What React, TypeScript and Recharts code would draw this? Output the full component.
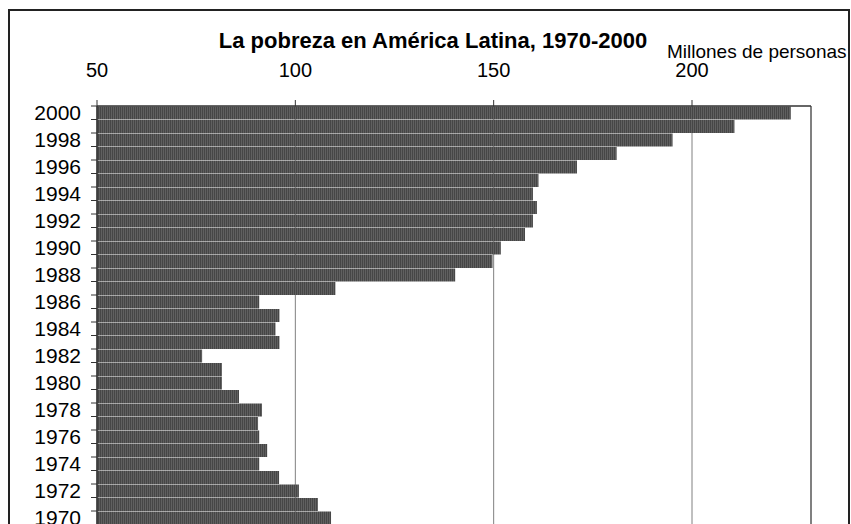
import React from "react";
import {
  BarChart, Bar, XAxis, YAxis, CartesianGrid, ReferenceLine,
} from "recharts";

// años (categorías) y millones de personas pobres
const years = [
  1970, 1971, 1972, 1973, 1974, 1975, 1976, 1977, 1978, 1979,
  1980, 1981, 1982, 1983, 1984, 1985, 1986, 1987, 1988, 1989,
  1990, 1991, 1992, 1993, 1994, 1995, 1996, 1997, 1998, 1999, 2000,
];
const pobres = [
  109.0, 105.7, 100.9, 95.9, 90.9, 92.9, 90.9, 90.6, 91.6, 85.8,
  81.5, 81.5, 76.5, 96.0, 95.0, 96.0, 90.9, 110.1, 140.3, 149.7,
  151.8, 157.9, 159.9, 160.9, 159.9, 161.3, 171.0, 181.0, 195.1, 210.7, 224.9,
];
const xTicks = [50, 100, 150, 200];
const xDomain = [50, 230];

const title = "La pobreza en América Latina, 1970-2000";
const unitLabel = "Millones de personas";

// 2000 arriba, 1970 abajo
const data = years.map((y, i) => ({ year: y, value: pobres[i] })).reverse();

const W = 851;
const H = 560;
const M = { top: 66, right: 40, bottom: 35.5, left: 7 };
const X_AXIS_H = 40;
const Y_AXIS_W = 90;
const PLOT_H = H - M.top - M.bottom - X_AXIS_H;
const BAND = PLOT_H / data.length;
const FONT = "'Liberation Sans', Arial, sans-serif";

const YearTick = (props: any) => {
  const { x, y, payload } = props;
  const show = payload.value % 2 === 0;
  return (
    <g>
      <line x1={x + 10} x2={x + 16} y1={y - BAND / 2} y2={y - BAND / 2} stroke="#333" strokeWidth={1} />
      {show && (
        <text x={x} y={y} dy="0.36em" textAnchor="end" fontSize={21} fontFamily={FONT} fill="#000">
          {payload.value}
        </text>
      )}
    </g>
  );
};

export default function App() {
  return (
    <div style={{ position: "absolute", left: 0, top: 0, width: W, height: 524, overflow: "hidden", background: "#fff" }}>
      <svg width={0} height={0} style={{ position: "absolute" }}>
        <defs>
          <pattern id="rayado" width="2" height="2" patternUnits="userSpaceOnUse">
            <rect width="2" height="2" fill="#606060" />
            <rect width="1" height="2" fill="#464646" />
          </pattern>
        </defs>
      </svg>
      <div
        style={{
          position: "absolute", left: 8, top: 9, width: 842, height: 600,
          border: "2px solid #222", boxSizing: "border-box",
        }}
      />
      <div style={{ position: "absolute", left: 0, top: 0 }}>
        <BarChart
          width={W}
          height={H}
          data={data}
          layout="vertical"
          margin={M}
          barCategoryGap={0.5}
        >
          <CartesianGrid horizontal={false} stroke="#808080" strokeWidth={1} />
          <XAxis
            type="number"
            orientation="top"
            domain={xDomain}
            ticks={xTicks}
            height={X_AXIS_H}
            allowDataOverflow
            tickSize={6}
            tickMargin={23}
            axisLine={{ stroke: "#333", strokeWidth: 1.5 }}
            tickLine={{ stroke: "#333" }}
            tick={{ fontSize: 20, fontFamily: FONT, fill: "#000" }}
          />
          <YAxis
            type="category"
            dataKey="year"
            width={Y_AXIS_W}
            interval={0}
            tickSize={6}
            tickMargin={10}
            tickLine={false}
            axisLine={{ stroke: "#333", strokeWidth: 1.5 }}
            tick={<YearTick />}
          />
          <ReferenceLine x={230} stroke="#808080" strokeWidth={2} />
          <Bar dataKey="value" fill="url(#rayado)" isAnimationActive={false} />
        </BarChart>
      </div>
      <div
        style={{
          position: "absolute", left: 0, width: 866, top: 29, textAlign: "center",
          fontFamily: FONT, fontWeight: "bold", fontSize: 22, color: "#000", lineHeight: "24px",
        }}
      >
        {title}
      </div>
      <div
        style={{
          position: "absolute", left: 667, top: 41, fontFamily: FONT, fontSize: 19,
          color: "#000", lineHeight: "22px", whiteSpace: "nowrap",
        }}
      >
        {unitLabel}
      </div>
    </div>
  );
}
